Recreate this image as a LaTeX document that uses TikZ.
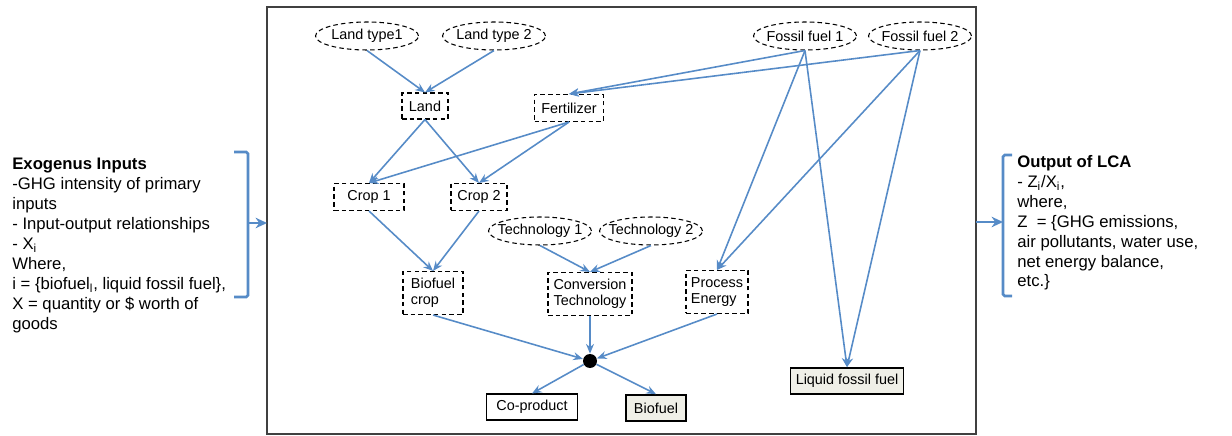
\documentclass[tikz,border=0pt]{standalone}
\usepackage{fontspec}
\setmainfont{Liberation Sans}
\usetikzlibrary{shapes.geometric, arrows.meta, positioning}
\definecolor{linkblue}{RGB}{86,139,199}
\definecolor{fuelfill}{RGB}{239,239,231}

\begin{document}
\begin{tikzpicture}[x=0.02cm, y=-0.02cm,
    every node/.style={font=\fontsize{8.2}{9.2}\selectfont},
    oval/.style={ellipse, draw, line width=0.6pt, dash pattern=on 2.6pt off 1.8pt, minimum width=2.06cm, minimum height=0.56cm, inner sep=0pt},
    dbox/.style={draw, line width=0.6pt, dash pattern=on 2.6pt off 1.8pt, inner sep=0pt, align=left},
    sbox/.style={draw, line width=0.6pt, inner sep=0pt, minimum height=0.52cm},
    fuel/.style={sbox, fill=fuelfill, line width=1pt},
    link/.style={draw=linkblue, line width=0.9pt, -{Stealth[length=5.5pt,width=4.5pt]}},
    brace/.style={draw=linkblue, line width=1.5pt, rounded corners=1pt},
    bracelink/.style={draw=linkblue, line width=1.5pt, -{Stealth[length=6.5pt,width=6pt]}},
    note/.style={font=\fontsize{9.5}{11.34}\selectfont, align=left, inner sep=0pt, anchor=north west}]
    \useasboundingbox (0,0) rectangle (1232,436);

    % Frame of the model
    \draw[black!75, line width=0.8pt] (267,7) rectangle (976,434);
    \coordinate (frameW) at (267,223);
    \coordinate (frameE) at (976,222);

    % Primary inputs
    \node[oval, label=center:Land type1] (lt1) at (367,36) {};
    \node[oval, label=center:Land type 2] (lt2) at (494,36) {};
    \node[oval, label=center:Fossil fuel 1] (ff1) at (805,36) {};
    \node[oval, label=center:Fossil fuel 2] (ff2) at (920,36) {};

    % Intermediate goods
    \node[dbox, minimum width=0.92cm, minimum height=0.52cm] (land) at (425,106) {Land};
    \node[dbox, minimum width=1.38cm, minimum height=0.54cm] (fert) at (569,108) {Fertilizer};
    \node[dbox, minimum width=1.40cm, minimum height=0.54cm] (crop1) at (369,197) {Crop 1};
    \node[dbox, minimum width=1.12cm, minimum height=0.54cm] (crop2) at (479,197) {Crop 2};
    \node[oval, label=center:Technology 1] (tech1) at (540,231) {};
    \node[oval, label=center:Technology 2] (tech2) at (651,231) {};
    \node[dbox, minimum width=1.20cm, minimum height=0.86cm] (bcrop) at (433,293) {Biofuel\\crop};
    \node[dbox, minimum width=1.68cm, minimum height=0.86cm] (conv) at (590,294) {Conversion\\Technology};
    \node[dbox, minimum width=1.24cm, minimum height=0.86cm] (proc) at (717,292) {Process\\Energy};

    % Outputs
    \node[circle, fill=black, minimum size=0.28cm, inner sep=0pt] (mix) at (590,361) {};
    \node[sbox, fill=white, minimum width=1.82cm] (coprod) at (532,407) {Co-product};
    \node[fuel, minimum width=1.20cm] (biofuel) at (656,408) {Biofuel};
    \node[fuel, minimum width=2.26cm] (lff) at (847,381) {Liquid fossil fuel};

    % Flows
    \foreach \src/\dst in {lt1/land, lt2/land, ff1/fert, ff2/fert, land/crop1, land/crop2,
        fert/crop1, fert/crop2, crop1/bcrop, crop2/bcrop, tech1/conv, tech2/conv,
        ff1/proc, ff2/proc, ff1/lff, ff2/lff}
        \draw[link] (\src.south) -- (\dst.north);
    \foreach \src in {bcrop, conv, proc}
        \draw[link] (\src.south) -- (mix);
    \foreach \dst in {coprod, biofuel}
        \draw[link] (mix) -- (\dst.north);

    % Exogenous inputs
    \node[note] (inputs) at (12,158) {\textbf{Exogenus Inputs}\\
        -GHG intensity of primary\\
        inputs\\
        - Input-output relationships\\
        - X\textsubscript{i}\\
        Where,\\
        i = \{biofuel\textsubscript{l}, liquid fossil fuel\},\\
        X = quantity or \$ worth of\\
        goods};
    \draw[brace] (234,152) -- (248,152) -- (248,297) -- (234,297);
    \coordinate (lbr) at (248,223);
    \draw[bracelink] (lbr) -- (frameW);

    % Output of LCA
    \draw[brace] (1012,155) -- (1003,155) -- (1003,296) -- (1012,296);
    \coordinate (rbr) at (1003,222);
    \draw[bracelink] (frameE) -- (rbr);
    \node[note] (outputs) at (1017,155) {\textbf{Output of LCA}\\
        - Z\textsubscript{i}/X\textsubscript{i},\\
        where,\\
        Z\ \ = \{GHG emissions,\\
        air pollutants, water use,\\
        net energy balance,\\
        etc.\}};
\end{tikzpicture}
\end{document}
